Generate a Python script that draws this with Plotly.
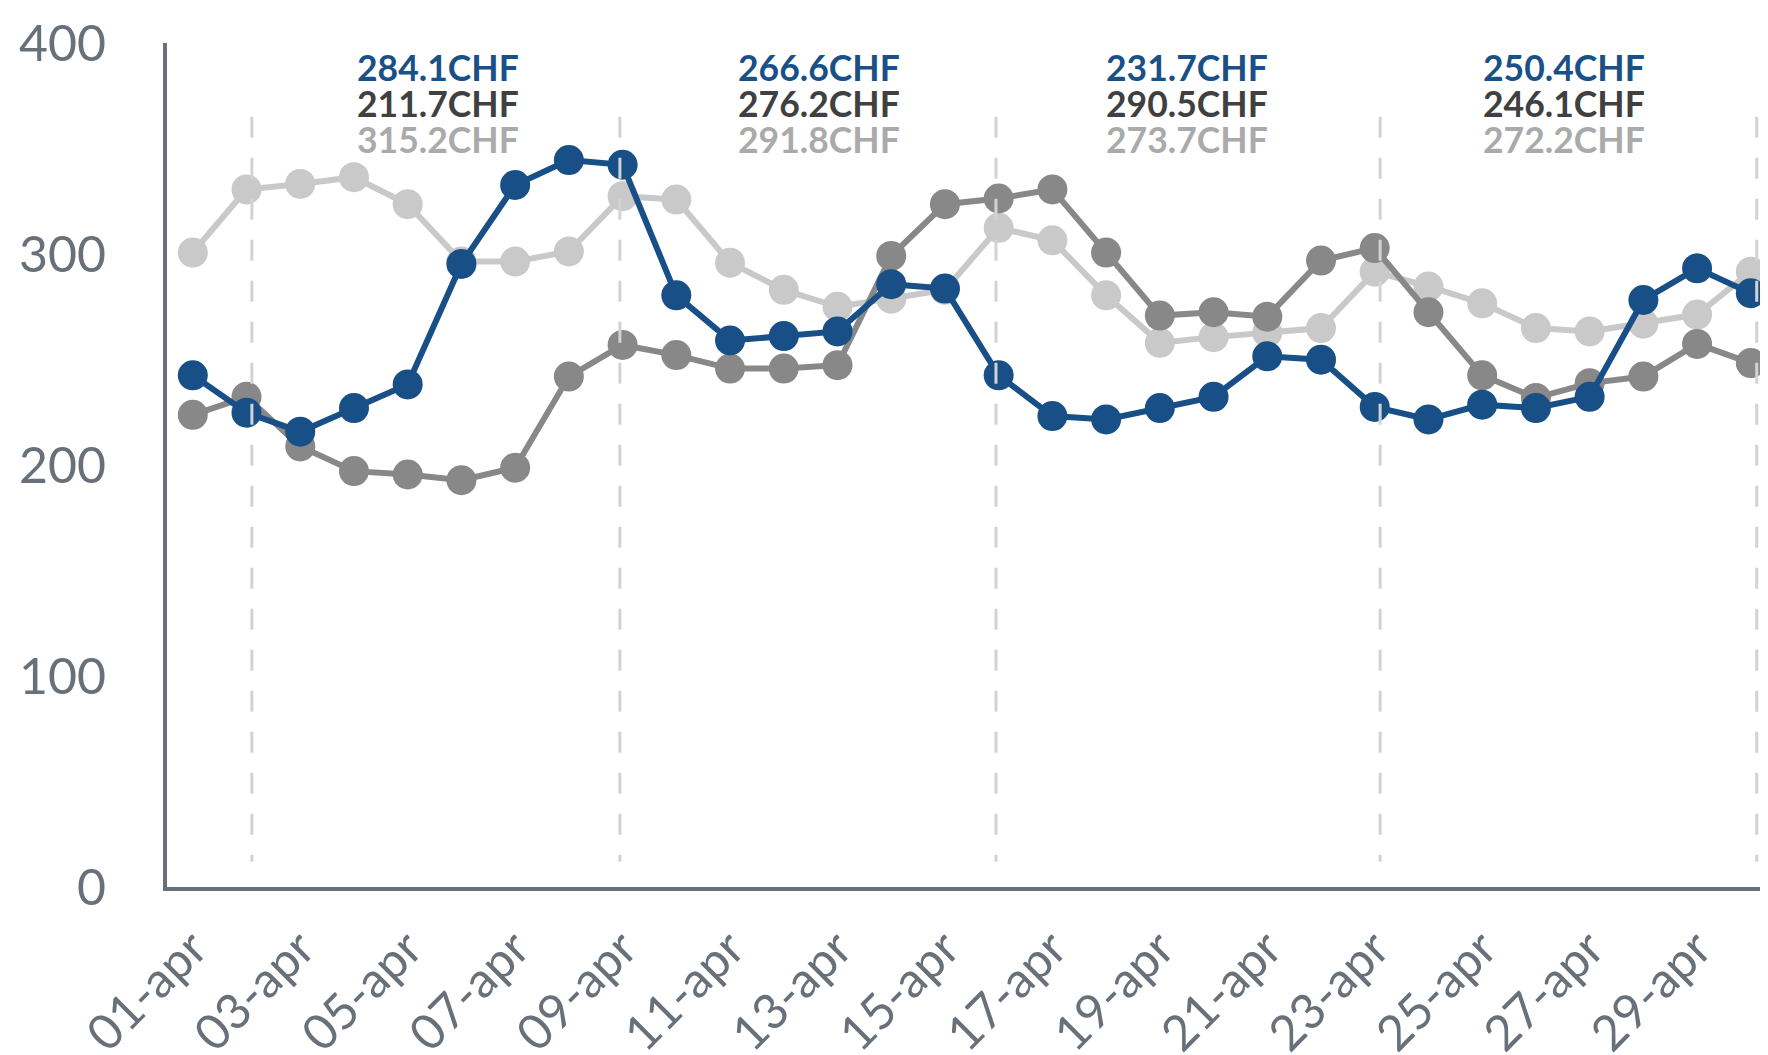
import plotly.graph_objects as go

days = [f"{d:02d}-apr" for d in range(1, 31)]

blue_vals = [242.5, 224.8, 215.8, 227.0, 238.2, 295.3, 332.7, 344.5, 342.3, 280.4,
             259.0, 261.1, 263.3, 285.7, 283.6, 242.5, 223.2, 221.6, 227.0, 232.3,
             251.5, 249.9, 227.5, 221.6, 228.6, 227.0, 232.3, 278.2, 293.2, 281.4]
mid_vals = [223.8, 232.3, 208.8, 197.1, 195.5, 192.8, 198.7, 241.9, 256.9, 252.1,
            245.7, 245.7, 247.3, 299.1, 323.6, 326.3, 330.6, 300.7, 270.8, 272.4,
            270.3, 296.9, 302.8, 272.4, 242.5, 231.8, 238.8, 241.9, 257.4, 248.3]
light_vals = [300.7, 330.6, 333.2, 336.4, 323.6, 296.4, 296.4, 301.2, 327.4, 325.8,
              295.9, 283.0, 275.0, 278.8, 283.0, 312.4, 306.5, 280.4, 257.9, 260.6,
              262.7, 264.9, 291.6, 284.6, 276.6, 264.9, 263.3, 267.0, 271.3, 291.6]

tick_labels = days[0::2]
blue_labels = ["284.1CHF", "266.6CHF", "231.7CHF", "250.4CHF"]
dark_labels = ["211.7CHF", "276.2CHF", "290.5CHF", "246.1CHF"]
light_labels = ["315.2CHF", "291.8CHF", "273.7CHF", "272.2CHF"]

# layout positions (category index units)
divider_x = [1.1, 7.95, 14.95, 22.1, 29.11]
label_x = [4.56, 11.65, 18.5, 25.52]

BLUE = "#174f86"
MID = "#888888"
LIGHT = "#c9c9c9"
AXIS = "#68717a"
FONT = "Lato, 'Open Sans', sans-serif"

fig = go.Figure()
for vals, col in [(light_vals, LIGHT), (mid_vals, MID), (blue_vals, BLUE)]:
    fig.add_trace(go.Scatter(
        x=days, y=vals, mode="lines+markers",
        line=dict(color=col, width=6),
        marker=dict(color=col, size=30),
        showlegend=False, hoverinfo="skip"))

shapes = []
for w in divider_x:
    shapes.append(dict(type="line", xref="x", yref="y", x0=w, x1=w, y0=365, y1=12,
                       line=dict(color="#d3d3d3", width=3, dash="21px,20px"),
                       layer="above"))

annotations = []
for i in range(4):
    for txt, col, yv in [(blue_labels[i], "#1a5088", 388.5),
                         (dark_labels[i], "#404040", 371.3),
                         (light_labels[i], "#a9abab", 354.1)]:
        annotations.append(dict(x=label_x[i], y=yv, xref="x", yref="y", text=f"<b>{txt}</b>",
                                showarrow=False, xanchor="center", yanchor="middle",
                                font=dict(family=FONT, size=35.5, color=col)))

fig.update_layout(
    width=1760, height=1055,
    margin=dict(l=159, r=0, t=35, b=176),
    paper_bgcolor="white", plot_bgcolor="white",
    font=dict(family=FONT, color=AXIS),
    shapes=shapes, annotations=annotations,
)
fig.update_xaxes(
    type="category", range=[-0.48, 29.32], automargin=False,
    tickvals=tick_labels, ticktext=tick_labels, tickangle=-45,
    tickfont=dict(family=FONT, size=49, color=AXIS),
    showgrid=False, zeroline=False, showline=True, linecolor=AXIS, linewidth=4,
    ticks="", ticklabelstandoff=9,
)
fig.update_yaxes(
    range=[0, 400], tickvals=[0, 100, 200, 300, 400], automargin=False,
    tickfont=dict(family=FONT, size=50, color=AXIS),
    showgrid=False, zeroline=False, showline=True, linecolor=AXIS, linewidth=4,
    ticks="", ticklabelstandoff=47,
)

fig.write_html("out.html")
